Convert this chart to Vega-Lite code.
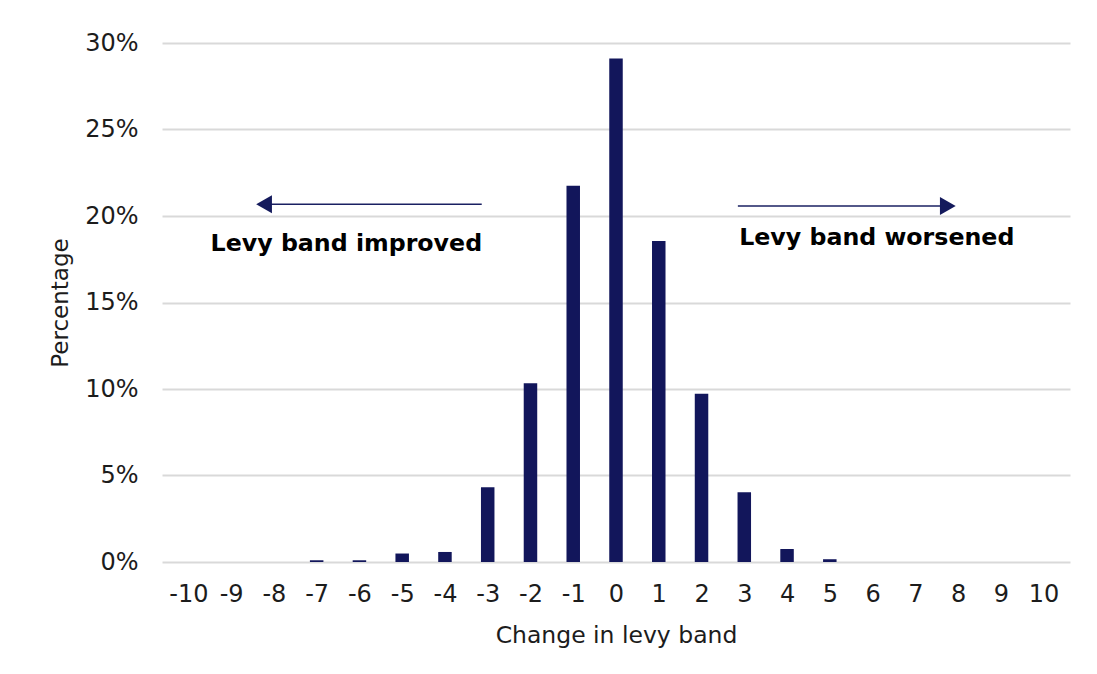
{
  "$schema": "https://vega.github.io/schema/vega-lite/v6.json",
  "autosize": "none",
  "width": 908,
  "height": 519,
  "padding": {"left": 162, "top": 43, "right": 27, "bottom": 112},
  "background": "white",
  "config": {
    "font": "DejaVu Sans",
    "view": {"stroke": null},
    "axis": {
      "labelFont": "DejaVu Sans",
      "titleFont": "DejaVu Sans",
      "labelColor": "#1c1c1c",
      "titleColor": "#1c1c1c",
      "titleFontWeight": "normal",
      "labelFontSize": 24,
      "titleFontSize": 23.5
    }
  },
  "datasets": {
    "bands": [
      {"band": -10, "pct": 0},
      {"band": -9, "pct": 0},
      {"band": -8, "pct": 0},
      {"band": -7, "pct": 0.001},
      {"band": -6, "pct": 0.001},
      {"band": -5, "pct": 0.0049},
      {"band": -4, "pct": 0.0058},
      {"band": -3, "pct": 0.0432},
      {"band": -2, "pct": 0.1033},
      {"band": -1, "pct": 0.2175},
      {"band": 0, "pct": 0.291},
      {"band": 1, "pct": 0.1855},
      {"band": 2, "pct": 0.0973},
      {"band": 3, "pct": 0.0403},
      {"band": 4, "pct": 0.0075},
      {"band": 5, "pct": 0.0016},
      {"band": 6, "pct": 0},
      {"band": 7, "pct": 0},
      {"band": 8, "pct": 0},
      {"band": 9, "pct": 0},
      {"band": 10, "pct": 0}
    ],
    "arrows": [
      {"from": -3.14, "to": -8.1, "level": 0.2068},
      {"from": 2.85, "to": 7.72, "level": 0.2058}
    ],
    "heads": [
      {"at": -8.23, "level": 0.2068, "dir": "triangle-left"},
      {"at": 7.76, "level": 0.2058, "dir": "triangle-right"}
    ],
    "notes": [
      {"at": -9.48, "level": 0.1798, "label": "Levy band improved"},
      {"at": 2.88, "level": 0.1832, "label": "Levy band worsened"}
    ]
  },
  "layer": [
    {
      "data": {"name": "bands"},
      "mark": {"type": "bar", "width": 13.5, "color": "#12165b"},
      "encoding": {
        "x": {
          "field": "band",
          "type": "quantitative",
          "scale": {"domain": [-10.5, 10.5], "nice": false, "zero": false},
          "axis": {
            "title": "Change in levy band",
            "values": [-10, -9, -8, -7, -6, -5, -4, -3, -2, -1, 0, 1, 2, 3, 4, 5, 6, 7, 8, 9, 10],
            "labelExpr": "'' + datum.value",
            "grid": false,
            "domain": false,
            "ticks": false,
            "tickSize": 0,
            "labelPadding": 20,
            "titlePadding": 17,
            "labelFlush": false,
            "labelOverlap": false
          }
        },
        "y": {
          "field": "pct",
          "type": "quantitative",
          "scale": {"domain": [0, 0.3], "nice": false},
          "axis": {
            "title": "Percentage",
            "titleFontSize": 23,
            "values": [0, 0.05, 0.1, 0.15, 0.2, 0.25, 0.3],
            "format": ".0%",
            "grid": true,
            "gridColor": "#d9d9d9",
            "gridWidth": 2,
            "domain": false,
            "ticks": false,
            "tickSize": 0,
            "labelPadding": 24,
            "titlePadding": 12
          }
        }
      }
    },
    {
      "data": {"name": "arrows"},
      "mark": {"type": "rule", "color": "#1a2062", "strokeWidth": 1.5},
      "encoding": {
        "x": {"field": "from", "type": "quantitative"},
        "x2": {"field": "to"},
        "y": {"field": "level", "type": "quantitative"}
      }
    },
    {
      "data": {"name": "heads"},
      "mark": {"type": "point", "filled": true, "size": 330, "color": "#141a5c", "opacity": 1},
      "encoding": {
        "x": {"field": "at", "type": "quantitative"},
        "y": {"field": "level", "type": "quantitative"},
        "shape": {"field": "dir", "type": "nominal", "scale": null}
      }
    },
    {
      "data": {"name": "notes"},
      "mark": {"type": "text", "align": "left", "baseline": "alphabetic", "font": "DejaVu Sans", "fontWeight": "bold", "fontSize": 23.7, "color": "#000000"},
      "encoding": {
        "x": {"field": "at", "type": "quantitative"},
        "y": {"field": "level", "type": "quantitative"},
        "text": {"field": "label"}
      }
    }
  ]
}
